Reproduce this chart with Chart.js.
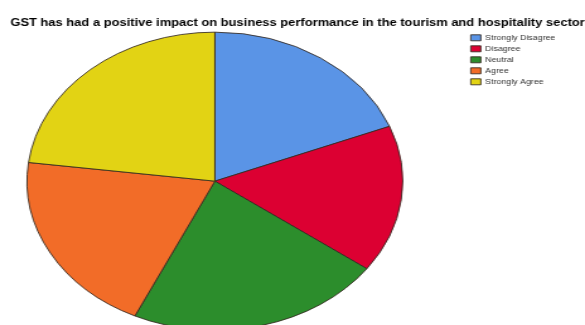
<!DOCTYPE html>
<html>
<head>
<meta charset="utf-8">
<script src="https://cdn.jsdelivr.net/npm/chart.js@4/dist/chart.umd.min.js"></script>
<style>
  html, body { margin: 0; padding: 0; background: #fff; overflow: hidden; }
  #pie { display: block; }
</style>
</head>
<body>
<!-- the source image is stretched horizontally, so the canvas is drawn narrow and widened by css -->
<canvas id="pie" width="464" height="325" style="width:585px;height:325px"></canvas>
<script>
const CHART_TITLE = 'GST has had a positive impact on business performance in the tourism and hospitality sector';
const CATEGORIES = ['Strongly Disagree', 'Disagree', 'Neutral', 'Agree', 'Strongly Agree'];
const PERCENTS = [19, 16, 22, 20, 23];
const SLICE_COLORS = ['#5a94e6', '#dc0032', '#2c8d2c', '#f26c28', '#e2d314'];

// in the original the pie is off-centre in its area and the legend sits a bit left of the edge
const PIE_SHIFT_X = -25;
const PIE_SHIFT_Y = 3.5;
const LEGEND_SHIFT_X = -13.5;
const nudgeBoxes = {
  id: 'nudgeBoxes',
  afterLayout(chart) {
    const area = chart.chartArea;
    area.left += PIE_SHIFT_X;
    area.right += PIE_SHIFT_X;
    area.top += PIE_SHIFT_Y;
    area.bottom += PIE_SHIFT_Y;
    chart.legend.left += LEGEND_SHIFT_X;
    chart.legend.right += LEGEND_SHIFT_X;
  }
};

function createPie(ctx, labels, values) {
  return new Chart(ctx, {
    type: 'pie',
    data: {
      labels,
      datasets: [{
        data: values,
        backgroundColor: SLICE_COLORS,
        borderColor: 'rgba(50,40,30,0.85)',
        borderWidth: 1,
        radius: 149
      }]
    },
    options: {
      responsive: false,
      animation: false,
      devicePixelRatio: 1,
      layout: { padding: { left: 8, right: 0, top: 0, bottom: 0 } },
      plugins: {
        title: {
          display: true,
          text: CHART_TITLE,
          color: '#000',
          font: { family: 'Arial, "Liberation Sans", sans-serif', size: 10.25, weight: 'bold' },
          padding: { top: 17, bottom: 1 }
        },
        legend: {
          display: true,
          position: 'right',
          align: 'start',
          fullSize: false,
          labels: {
            boxWidth: 8,
            boxHeight: 6,
            padding: 4,
            color: '#333',
            font: { family: 'Arial, "Liberation Sans", sans-serif', size: 7 }
          }
        },
        tooltip: { enabled: false }
      }
    },
    plugins: [nudgeBoxes]
  });
}

createPie(document.getElementById('pie'), CATEGORIES, PERCENTS);
</script>
</body>
</html>
